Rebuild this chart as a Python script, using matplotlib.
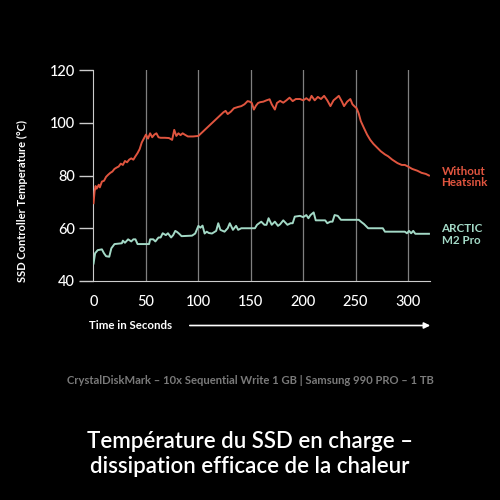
import numpy as np
import matplotlib
matplotlib.use("Agg")
from matplotlib import pyplot as plt

plt.rcParams['font.family'] = ['Lato', 'DejaVu Sans']

# red series: without heatsink
t_hot = [0, 1, 2, 3, 5, 6, 8, 10, 12, 14, 16, 18, 20, 22, 24, 26, 28, 30, 32, 34,
         36, 38, 40, 42, 44, 46, 48, 50, 52, 54, 56, 58, 60, 62, 64, 68, 72, 75, 77, 79,
         81, 83, 85, 87, 90, 95, 100, 104, 108, 112, 116, 120, 124, 126, 128, 131, 134, 138, 141, 144,
         147, 149, 151, 153, 155, 157, 159, 162, 165, 168, 170, 173, 175, 178, 181, 184, 187, 190, 193, 197,
         200, 203, 206, 208, 211, 214, 217, 220, 223, 226, 229, 232, 234, 237, 239, 242, 245, 247, 249, 251,
         253, 255, 258, 261, 264, 267, 270, 274, 278, 281, 285, 290, 294, 297, 300, 304, 309, 313, 317, 320]
temp_hot = [69.5, 74, 76, 75, 76.5, 75.5, 77.7, 78, 79.5, 80.3, 81, 81.5, 82.5, 83, 83.4, 84.5, 84, 85.5, 85, 86,
            86.5, 86, 87.3, 88.5, 90, 92.5, 94, 95.5, 94, 96, 94.5, 95.5, 96, 94.5, 94.3, 94.3, 94.2, 93.5, 97.3, 95,
            96, 95.3, 96, 95.5, 94.8, 94.8, 95, 96.5, 98, 99.5, 101, 102.5, 104, 104.5, 103.3, 104.2, 105.5, 106, 106.3, 107,
            108.2, 108, 107.5, 105, 106.5, 107.5, 107.8, 108, 108.5, 108.9, 107, 105, 107.5, 108.3, 107.6, 108.5, 109.5, 108.2, 109, 109,
            108.5, 109.3, 108.4, 110.2, 108.5, 109.8, 109, 110.2, 108.5, 106.3, 108.5, 109.5, 110.2, 108, 106.3, 108, 109, 107, 106.2, 105.5,
            103.5, 100.6, 98, 95.5, 93.5, 92, 90.8, 89.2, 88, 87.3, 86, 84.7, 84, 84, 83.4, 82.5, 81.8, 81, 80.6, 80]

# green series: ARCTIC M2 Pro
t_cool = [0, 1.5, 4, 8, 10, 12, 15, 17, 20, 27, 28, 30, 33, 36, 38, 40, 42, 53, 54, 57,
          59, 62, 64, 66, 69, 71, 74, 76, 78, 80, 82, 84, 94, 97, 100, 102, 104, 106, 108, 110,
          113, 117, 119, 121, 125, 128, 130, 133, 136, 138, 141, 154, 156, 158, 160, 163, 165, 167, 170, 173,
          176, 178, 181, 185, 188, 190, 192, 197, 200, 203, 205, 207, 210, 212, 221, 223, 226, 228, 230, 233,
          236, 253, 256, 258, 262, 276, 278, 297, 299, 301, 303, 305, 307, 320]
temp_cool = [46.6, 50.5, 51.7, 52, 50.5, 49.4, 49.2, 52.4, 54, 54.3, 55.3, 54.5, 55.8, 55, 55.8, 55.8, 54, 54, 55.8, 55.8,
             55, 56.5, 56.5, 58.1, 57.4, 58.1, 56.5, 57.4, 59, 58.5, 57.8, 57, 57.2, 58, 60.9, 60.2, 61, 58, 58.7, 58.2,
             58, 59, 61.9, 59.4, 58.7, 60, 61.9, 59.4, 60.9, 59.4, 60, 60, 61.3, 61.9, 62.5, 61.3, 61.3, 63.8, 61.3, 62.5,
             60.9, 61.5, 63, 61.3, 61.9, 61.9, 64.4, 64.7, 64.2, 65, 63.8, 65, 66, 63, 63, 61.9, 62.5, 62.5, 65, 64.7,
             63.2, 63.2, 62.2, 61.6, 60, 60, 58.7, 58.7, 58.1, 59, 58.1, 59, 57.9, 57.9]

x_ticks = [0, 50, 100, 150, 200, 250, 300]
y_ticks = [40, 60, 80, 100, 120]

red = '#e0553f'
green = '#a3d9c6'

fig = plt.figure(figsize=(5, 5), dpi=100, facecolor='black')
ax = fig.add_axes([0.186, 0.438, 0.674, 0.422])
ax.set_facecolor('black')

for xt in x_ticks[1:]:
    ax.axvline(xt, color='#808080', lw=0.9, zorder=1)

ax.plot(t_hot, temp_hot, color=red, lw=1.4, zorder=3)
ax.plot(t_cool, temp_cool, color=green, lw=1.4, zorder=3)

ax.set_xlim(-0.5, 321)
ax.set_ylim(40, 120)
ax.set_xticks(x_ticks)
ax.set_yticks(y_ticks)
ax.tick_params(axis='x', length=0, pad=10, labelcolor='white', labelsize=10.5)
ax.tick_params(axis='y', length=10, width=1, color='#cccccc', labelcolor='white',
               labelsize=10.5, pad=3)
for lab in ax.get_xticklabels() + ax.get_yticklabels():
    lab.set_fontweight('medium')
for s in ['top', 'right']:
    ax.spines[s].set_visible(False)
ax.spines['left'].set_color('#cccccc')
ax.spines['bottom'].set_color('#cccccc')

fig.text(0.044, 0.436, 'SSD Controller Temperature (°C)', color='white', fontsize=8,
         fontweight='bold', rotation=90, ha='center', va='bottom')

fig.text(0.178, 0.349, 'Time in Seconds', color='white', fontsize=8.3,
         fontweight='bold', va='center', ha='left')
ax.annotate('', xy=(0.866, 0.349), xytext=(0.374, 0.349), xycoords='figure fraction',
            arrowprops=dict(arrowstyle='-|>', color='white', lw=1.2, mutation_scale=9))

fig.text(0.883, 0.646, 'Without\nHeatsink', color=red, fontsize=8.4, fontweight='bold',
         va='center', ha='left', linespacing=1.05)
fig.text(0.883, 0.531, 'ARCTIC\nM2 Pro', color=green, fontsize=8.4, fontweight='bold',
         va='center', ha='left', linespacing=1.05)

fig.text(0.5, 0.238, 'CrystalDiskMark – 10x Sequential Write 1 GB | Samsung 990 PRO – 1 TB',
         color='#7a7a7a', fontsize=8.1, fontweight='bold', ha='center', va='center')
fig.text(0.5, 0.092, 'Température du SSD en charge –\ndissipation efficace de la chaleur',
         color='white', fontsize=16, fontweight='semibold', ha='center', va='center',
         linespacing=1.2)

fig.savefig('out.png', dpi=100, facecolor='black')
